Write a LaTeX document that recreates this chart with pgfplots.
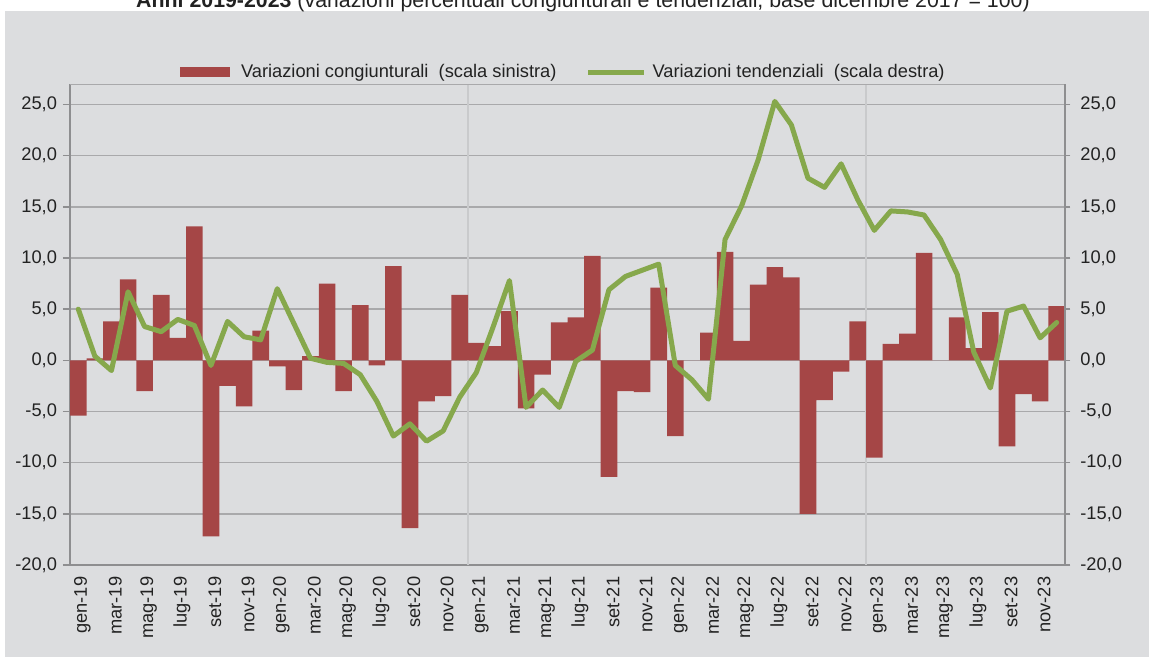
\documentclass[border=0pt]{standalone}
\usepackage{fontspec}
\setmainfont{Liberation Sans}
\usepackage{pgfplots}
\pgfplotsset{compat=1.18}
\definecolor{bg}{HTML}{DCDDDF}
\definecolor{barred}{HTML}{A54646}
\definecolor{lgreen}{HTML}{86A84C}
\definecolor{gridc}{HTML}{A9A9AB}
\definecolor{vgrid}{HTML}{C9CACC}
\definecolor{axisc}{HTML}{8E8E90}
\definecolor{txt}{HTML}{222222}
\newcommand\lblfont{\fontsize{13.7pt}{15pt}\selectfont\color{txt}}
\begin{document}
\begin{tikzpicture}
\begin{scope}[x=0.75pt,y=-0.75pt]
\useasboundingbox (0,0) rectangle (1149,657);
\fill[white] (0,0) rectangle (1149,657);
\fill[bg] (5,11) rectangle (1149,657);
\begin{scope}
\clip (0,0) rectangle (1149,11);
\node[anchor=base, inner sep=0pt, font=\fontsize{16pt}{18pt}\selectfont, text=txt] at (583,7.3) {\textbf{Anni 2019-2023} (variazioni percentuali congiunturali e tendenziali, base dicembre 2017 = 100)};
\end{scope}
\end{scope}
\begin{axis}[
  at={(52.5pt,-423.75pt)}, anchor=south west,
  scale only axis, width=746.25pt, height=360.75pt,
  xmin=-0.5, xmax=59.5, ymin=-20, ymax=27,
  axis x line=bottom, axis y line=left,
  axis line style={-, draw=axisc, line width=1.5pt},
  ytick={-20,-15,...,25},
  ymajorgrids,
  major grid style={draw=gridc, line width=1.1pt},
  tick align=outside,
  major tick length=5.25pt,
  ytick style={draw=axisc, line width=1.1pt},
  xtick style={draw=none},
  xtick={0,2,...,58},
  xticklabels={gen-19,mar-19,mag-19,lug-19,set-19,nov-19,gen-20,mar-20,mag-20,lug-20,set-20,nov-20,gen-21,mar-21,mag-21,lug-21,set-21,nov-21,gen-22,mar-22,mag-22,lug-22,set-22,nov-22,gen-23,mar-23,mag-23,lug-23,set-23,nov-23},
  xticklabel style={rotate=90, anchor=east, font=\lblfont, yshift=-3pt},
  extra x ticks={23.5,47.5},
  extra x tick labels={},
  extra x tick style={grid=major, major grid style={draw=vgrid, line width=1.1pt}, major tick length=0pt},
  yticklabel style={font=\lblfont, xshift=-1pt},
  /pgf/number format/.cd, fixed, fixed zerofill, precision=1, use comma, assume math mode=true,
  /pgfplots/.cd,
  legend style={at={(0.496,1)}, anchor=south, yshift=-1pt, draw=none, fill=none, font=\lblfont,
    legend columns=2, /tikz/every even column/.append style={column sep=20pt}},
  legend cell align=left,
]
\draw[gridc, line width=1.1pt] (rel axis cs:0,1) -- (rel axis cs:1,1);
\addplot[ybar, bar width=1, fill=barred, draw=none,
  legend image code/.code={\fill[barred] (0pt,-3.75pt) rectangle (38pt,3.75pt); \path (44pt,0pt);}]
coordinates {
(0,-5.4) (1,0.2) (2,3.8) (3,7.9) (4,-3.0) (5,6.4) (6,2.2) (7,13.1) (8,-17.2) (9,-2.5)
(10,-4.5) (11,2.9) (12,-0.6) (13,-2.9) (14,0.4) (15,7.5) (16,-3.0) (17,5.4) (18,-0.5) (19,9.2)
(20,-16.4) (21,-4.0) (22,-3.5) (23,6.4) (24,1.7) (25,1.4) (26,4.8) (27,-4.7) (28,-1.4) (29,3.7)
(30,4.2) (31,10.2) (32,-11.4) (33,-3.0) (34,-3.1) (35,7.1) (36,-7.4) (37,0.0) (38,2.7) (39,10.6)
(40,1.9) (41,7.4) (42,9.1) (43,8.1) (44,-15.0) (45,-3.9) (46,-1.1) (47,3.8) (48,-9.5) (49,1.6)
(50,2.6) (51,10.5) (52,0.0) (53,4.2) (54,1.2) (55,4.7) (56,-8.4) (57,-3.3) (58,-4.0) (59,5.3)
};
\addlegendentry{Variazioni congiunturali\ \ (scala sinistra)}
\addlegendimage{legend image code/.code={\draw[lgreen, line width=3.75pt] (0pt,0pt) -- (42pt,0pt); \path (46pt,0pt);}}
\addlegendentry{Variazioni tendenziali\ \ (scala destra)}
\end{axis}
\begin{axis}[
  at={(52.5pt,-423.75pt)}, anchor=south west,
  scale only axis, width=746.25pt, height=360.75pt,
  xmin=-0.5, xmax=59.5, ymin=-20, ymax=27,
  axis x line=none, axis y line*=right,
  axis line style={-, draw=axisc, line width=1.5pt},
  ytick={-20,-15,...,25},
  tick align=outside,
  major tick length=4pt,
  ytick style={draw=axisc, line width=1.1pt},
  yticklabel style={font=\lblfont, xshift=4pt},
  /pgf/number format/.cd, fixed, fixed zerofill, precision=1, use comma, assume math mode=true,
  /pgfplots/.cd,
]
\addplot[lgreen, line width=3.75pt, line join=round, line cap=round] coordinates {
(0,5.0) (1,0.4) (2,-1.0) (3,6.7) (4,3.3) (5,2.8) (6,4.0) (7,3.4) (8,-0.5) (9,3.8)
(10,2.3) (11,2.0) (12,7.0) (13,3.6) (14,0.2) (15,-0.2) (16,-0.3) (17,-1.4) (18,-4.0) (19,-7.4)
(20,-6.2) (21,-7.9) (22,-6.9) (23,-3.6) (24,-1.2) (25,3.2) (26,7.8) (27,-4.6) (28,-2.9) (29,-4.6)
(30,-0.1) (31,1.0) (32,6.9) (33,8.2) (34,8.8) (35,9.4) (36,-0.5) (37,-1.9) (38,-3.8) (39,11.8)
(40,15.1) (41,19.6) (42,25.3) (43,23.0) (44,17.8) (45,16.9) (46,19.2) (47,15.7) (48,12.7) (49,14.6)
(50,14.5) (51,14.2) (52,11.8) (53,8.4) (54,0.8) (55,-2.7) (56,4.8) (57,5.3) (58,2.2) (59,3.7)
};
\end{axis}
\end{tikzpicture}
\end{document}
